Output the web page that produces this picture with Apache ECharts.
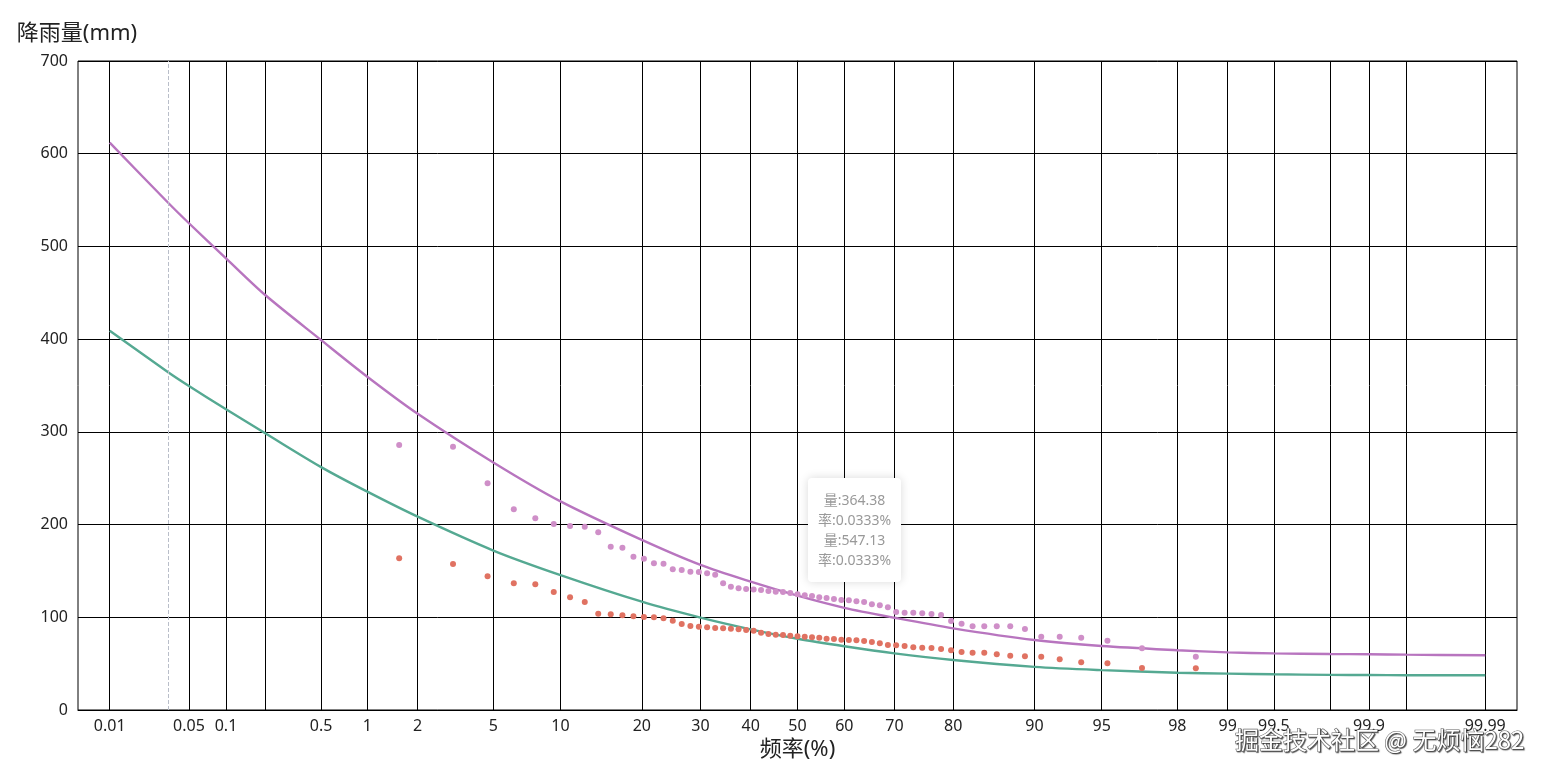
<!DOCTYPE html>
<html><head><meta charset="utf-8">
<script src="https://cdn.jsdelivr.net/npm/echarts@6/dist/echarts.min.js"></script>
<style>html,body{margin:0;padding:0;background:#fff}#c{width:1547px;height:777px}</style>
</head><body><div id="c"></div>
<script>
// ---- data ----
const gridPercents = [0.01,0.05,0.1,0.2,0.5,1,2,5,10,20,30,40,50,60,70,80,90,95,98,99,99.5,99.8,99.9,99.95,99.99];
const labelPercents = [0.01,0.05,0.1,0.5,1,2,5,10,20,30,40,50,60,70,80,90,95,98,99,99.5,99.9,99.99];
const axisRangePercents = [0.005, 99.995];
const yTicks = [0, 700, 100];
const yAxisName = '降雨量(mm)';
const xAxisName = '频率(%)';

const curvePercents = [0.01,0.0333,0.05,0.1,0.2,0.5,1,2,5,10,20,30,40,50,60,70,80,90,95,98,99,99.5,99.8,99.9,99.95,99.99];
const curveGreen  = [409,364.38,349.5,324.3,298.5,262,235.5,208.5,172,145.5,116.8,99.6,87,76.9,68.8,61.1,53.9,46.5,43,40.2,39.2,38.5,37.9,37.7,37.5,37.4];
const curvePurple = [612,547.13,525,487.2,447.6,399,359.5,319.5,267,225,183.4,156.4,138.4,123.3,110.2,99.5,88.1,75.5,69,64.5,62.2,61.1,60.4,60.1,59.7,59];

const obsPercents = [1.5625,3.125,4.6875,6.25,7.8125,9.375,10.9375,12.5,14.0625,15.625,17.1875,18.75,20.3125,21.875,23.4375,25,26.5625,28.125,29.6875,31.25,32.8125,34.375,35.9375,37.5,39.0625,40.625,42.1875,43.75,45.3125,46.875,48.4375,50,51.5625,53.125,54.6875,56.25,57.8125,59.375,60.9375,62.5,64.0625,65.625,67.1875,68.75,70.3125,71.875,73.4375,75,76.5625,78.125,79.6875,81.25,82.8125,84.375,85.9375,87.5,89.0625,90.625,92.1875,93.75,95.3125,96.875,98.4375];
const obsRed  = [163.6,157.5,144.2,136.6,135.6,127.3,121.6,116.5,103.9,103.2,102.1,101.1,100.3,100,98.9,96.3,92.8,90.6,89.9,89.2,88.4,88.1,87.7,87,86.3,85.5,83.4,82,81.2,80.9,80.2,79.5,79.1,78.4,78,76.9,76.6,75.8,75.5,75.2,74.4,73.3,71.9,70.1,69.8,69,67.6,67.2,66.9,65.8,64.5,62.6,61.8,61.8,60.1,58.6,57.9,57.5,54.7,51.4,50.3,45.3,45];
const obsPink = [285.8,284,244.5,216.5,206.8,200.6,198.5,197.7,191.7,176.2,175.1,165.4,163.2,158.2,157.8,151.8,151,149.2,148.9,147.4,146,136.6,133,131.2,130.5,130.1,129.4,128.4,127.6,127.3,126.2,124.8,123.7,123,121.6,120.8,119.7,118.7,118.3,117.2,116.5,114,112.9,110.8,105.7,105,105,104.3,103.5,102.5,96,93.1,90.3,90.3,90.3,90.3,87.4,79.1,79.1,78,74.8,66.5,57.5];

const tipIndex = 1; // 0.0333%

// ---- probability scale (normal quantile) ----
function normInv(p){
 const a=[-3.969683028665376e+01,2.209460984245205e+02,-2.759285104469687e+02,1.383577518672690e+02,-3.066479806614716e+01,2.506628277459239e+00];
 const b=[-5.447609879822406e+01,1.615858368580409e+02,-1.556989798598866e+02,6.680131188771972e+01,-1.328068155288572e+01];
 const c=[-7.784894002430293e-03,-3.223964580411365e-01,-2.400758277161838e+00,-2.549732539343734e+00,4.374664141464968e+00,2.938163982698783e+00];
 const d=[7.784695709041462e-03,3.224671290700398e-01,2.445134137142996e+00,3.754408661907416e+00];
 const pl=0.02425, ph=1-pl; let q,r;
 if(p<pl){q=Math.sqrt(-2*Math.log(p));return (((((c[0]*q+c[1])*q+c[2])*q+c[3])*q+c[4])*q+c[5])/((((d[0]*q+d[1])*q+d[2])*q+d[3])*q+1);}
 if(p<=ph){q=p-0.5;r=q*q;return (((((a[0]*r+a[1])*r+a[2])*r+a[3])*r+a[4])*r+a[5])*q/(((((b[0]*r+b[1])*r+b[2])*r+b[3])*r+b[4])*r+1);}
 q=Math.sqrt(-2*Math.log(1-p));return -(((((c[0]*q+c[1])*q+c[2])*q+c[3])*q+c[4])*q+c[5])/((((d[0]*q+d[1])*q+d[2])*q+d[3])*q+1);
}
const zOf = pct => normInv(pct/100);
const pairs = (ps, vs) => ps.map((p,i)=>[zOf(p), vs[i], p]);

const font = "'Noto Sans', 'Noto Sans CJK SC', sans-serif";
const chart = echarts.init(document.getElementById('c'), null, {renderer:'canvas'});
chart.setOption({
  animation: false,
  textStyle: {fontFamily: font},
  grid: {left: 78, right: 30, top: 61, bottom: 67, show: true, borderColor: '#000', borderWidth: 1, outerBoundsMode: 'none', containLabel: false},
  tooltip: {
    trigger: 'axis',
    alwaysShowContent: true,
    position: [808, 478],
    backgroundColor: '#fff',
    borderColor: '#fff',
    borderWidth: 0,
    padding: [12, 10],
    textStyle: {color: '#999', fontSize: 14, fontFamily: font},
    extraCssText: 'box-shadow:0 0 10px rgba(0,0,0,0.15);border-radius:4px;',
    axisPointer: {type: 'line', lineStyle: {color: '#B9BEC9', type: 'dashed', width: 1}},
    formatter: params => '<div style="text-align:center;line-height:20px">' +
      params.filter(p => p.seriesType === 'line')
        .map(p => '量:' + p.data[1].toFixed(2) + '<br/>率:' + p.data[2] + '%').join('<br/>') + '</div>'
  },
  xAxis: {
    type: 'value',
    min: zOf(axisRangePercents[0]),
    max: zOf(axisRangePercents[1]),
    name: xAxisName,
    nameLocation: 'middle',
    nameGap: 21,
    nameTextStyle: {fontSize: 22, color: '#222', fontFamily: font},
    axisLine: {show: true, lineStyle: {color: '#000', width: 1}},
    axisTick: {show: false, customValues: gridPercents.map(zOf)},
    axisLabel: {
      customValues: labelPercents.map(zOf),
      fontSize: 16, color: '#222', margin: 8,
      formatter: v => { const f = labelPercents.find(p => Math.abs(zOf(p) - v) < 1e-6); return f === undefined ? '' : String(f); }
    },
    splitLine: {show: true, lineStyle: {color: '#000', width: 1}}
  },
  yAxis: {
    type: 'value',
    position: 'left',
    min: yTicks[0], max: yTicks[1], interval: yTicks[2],
    axisLine: {show: true, lineStyle: {color: '#000', width: 1}},
    axisTick: {show: false},
    axisLabel: {fontSize: 16, color: '#222', margin: 10},
    splitLine: {show: true, lineStyle: {color: '#000', width: 1}}
  },
  series: [
    {name: 'green', type: 'line', data: pairs(curvePercents, curveGreen), symbol: 'none', smooth: 0.3,
     lineStyle: {color: '#4e9a85', width: 2.4}, itemStyle: {color: '#4e9a85'}, z: 3},
    {name: 'purple', type: 'line', data: pairs(curvePercents, curvePurple), symbol: 'none', smooth: 0.3,
     lineStyle: {color: '#a86bae', width: 2.4}, itemStyle: {color: '#a86bae'}, z: 3},
    {name: 'obsRed', type: 'scatter', data: pairs(obsPercents, obsRed), symbolSize: 6, itemStyle: {color: '#e07262', opacity: 1}, z: 4},
    {name: 'obsPink', type: 'scatter', data: pairs(obsPercents, obsPink), symbolSize: 6, itemStyle: {color: '#cf8fc8', opacity: 1}, z: 4}
  ],
  graphic: [{
    type: 'text', x: 77, y: 34, z: 100,
    style: {text: yAxisName, fontSize: 22, fontFamily: font, fill: '#222', align: 'center', verticalAlign: 'middle'}
  }, {
    type: 'text', right: 22, top: 727, z: 100,
    style: {text: '掘金技术社区 @ 无烦恼282', fontSize: 24, fontFamily: "'Noto Sans CJK SC', sans-serif",
      fill: '#fff', stroke: '#666', lineWidth: 1.2,
      textShadowColor: 'rgba(0,0,0,0.5)', textShadowBlur: 1, textShadowOffsetX: 1, textShadowOffsetY: 1}
  }]
});
chart.dispatchAction({type: 'showTip', seriesIndex: 0, dataIndex: tipIndex});
</script>
</body></html>
